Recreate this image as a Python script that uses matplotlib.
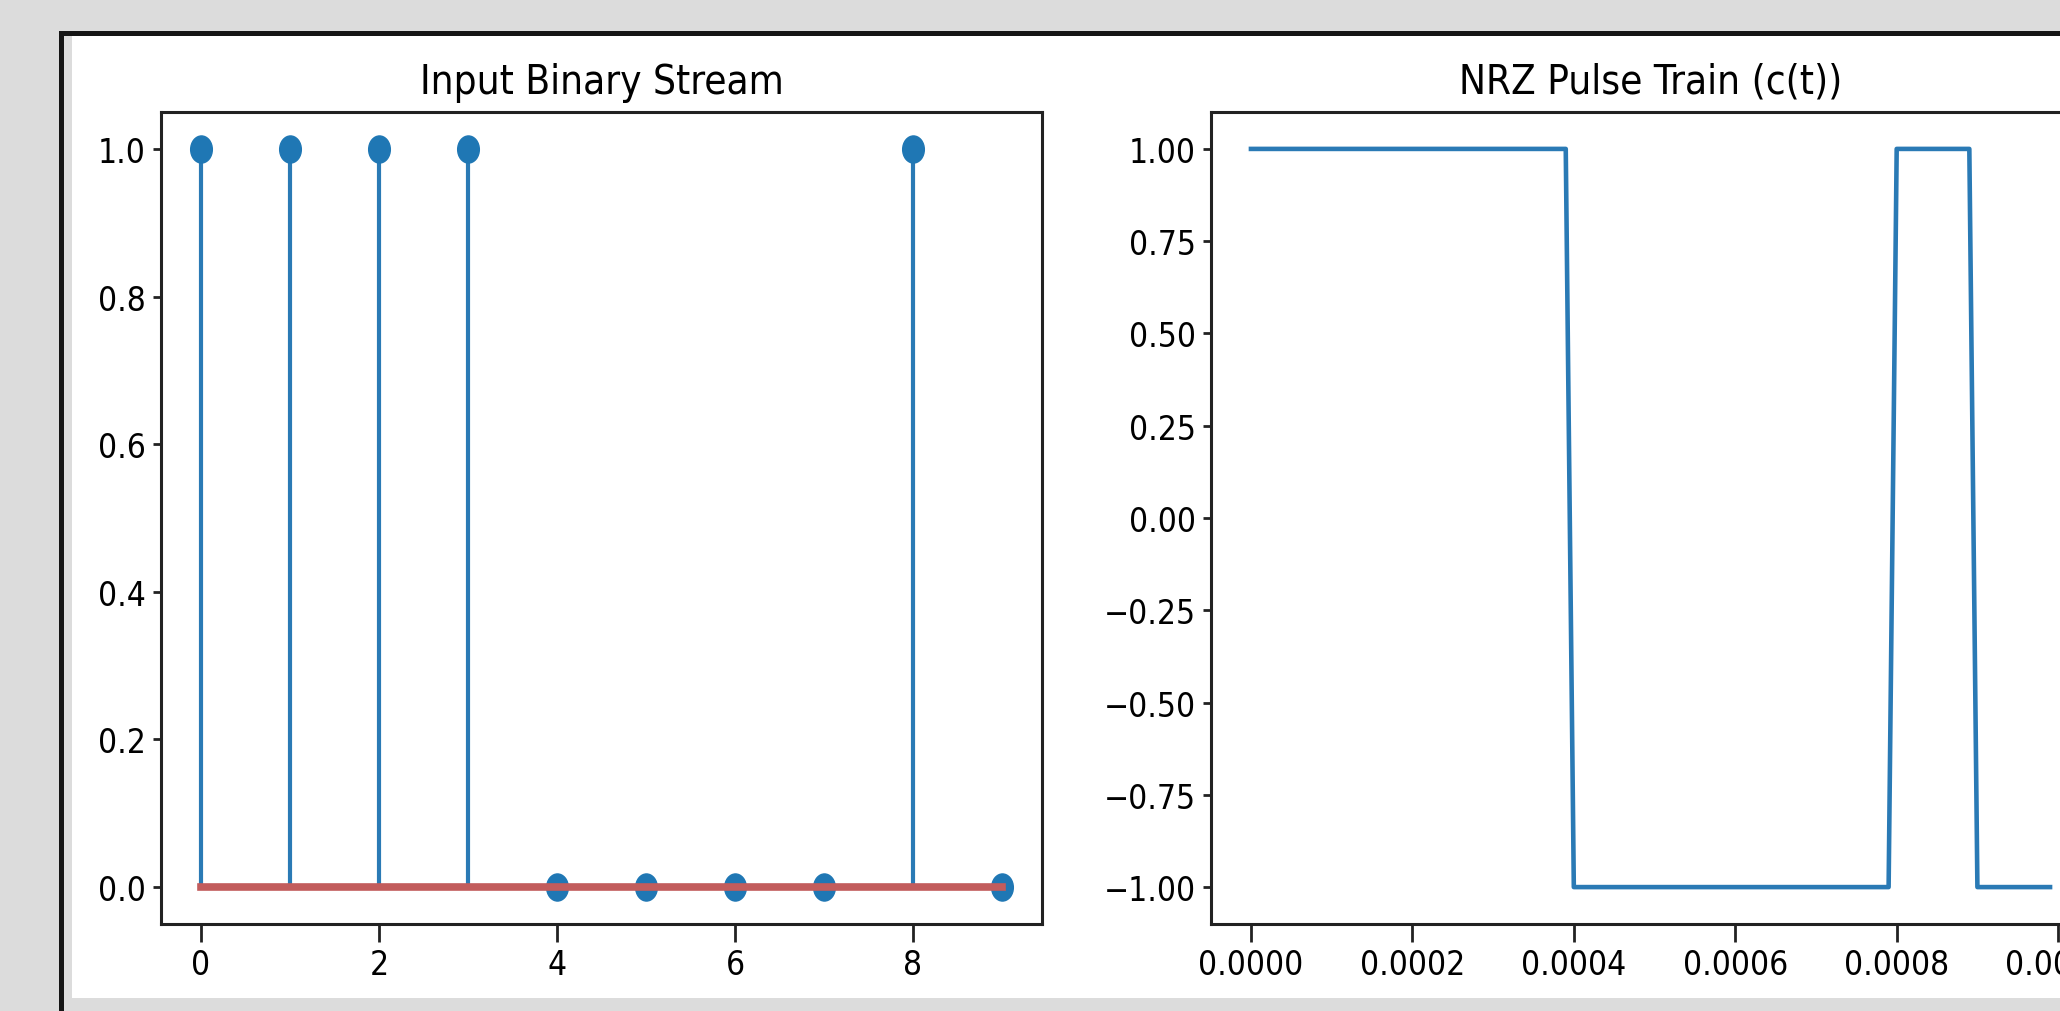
import numpy as np
import matplotlib
matplotlib.use("Agg")
import matplotlib.pyplot as plt
from matplotlib.patches import Rectangle
from matplotlib.path import Path
from matplotlib.transforms import Affine2D

# input bits and the NRZ waveform corners (seconds, level)
bit_index = [0, 1, 2, 3, 4, 5, 6, 7, 8, 9]
bits = [1, 1, 1, 1, 0, 0, 0, 0, 1, 0]
t_nrz = [0.0, 0.00039, 0.00040, 0.00079, 0.00080, 0.00089, 0.00090, 0.00099]
c_nrz = [1, 1, -1, -1, 1, 1, -1, -1]

left_yticks = [0.0, 0.2, 0.4, 0.6, 0.8, 1.0]
right_yticks = [-1.0, -0.75, -0.5, -0.25, 0.0, 0.25, 0.5, 0.75, 1.0]

plt.rcParams['font.family'] = ['DejaVu Sans']
plt.rcParams['font.stretch'] = 'condensed'

W, H = 2060, 1012
fig = plt.figure(figsize=(W / 100, H / 100), dpi=100, facecolor='#dcdcdc')


def px_rect(x0, y0, x1, y1, color):
    # rectangle given in pixel coords measured from the top-left corner
    fig.add_artist(Rectangle((x0 / W, 1 - y1 / H), (x1 - x0) / W, (y1 - y0) / H,
                             transform=fig.transFigure, facecolor=color,
                             edgecolor='none', zorder=-10))


# window frame around the plots
px_rect(72, 37, W, 999, 'white')
px_rect(59, 32, W, 37, '#151515')
px_rect(59, 32, 64, H, '#151515')

ax1 = fig.add_axes([161 / W, 1 - 925 / H, 881 / W, 812 / H])
ax2 = fig.add_axes([1211 / W, 1 - 925 / H, 879 / W, 812 / H])

# slightly tall oval dot for the stem heads
oval = Affine2D().scale(0.8, 1.0).transform_path(Path.unit_circle())

markerline, stemlines, baseline = ax1.stem(bit_index, bits)
markerline.set_marker(oval)
markerline.set_markersize(19.5)
markerline.set_color('#1f77b4')
stemlines.set_linewidth(3.0)
stemlines.set_color('#2a7ab5')
baseline.set_color('#c25c5c')
baseline.set_linewidth(5.5)
ax1.set_title('Input Binary Stream', fontsize=29, pad=14)
ax1.set_yticks(left_yticks)
ax1.yaxis.set_major_formatter('{x:.1f}')

ax2.plot(t_nrz, c_nrz, color='#2a7ab5', linewidth=3.3)
ax2.set_title('NRZ Pulse Train (c(t))', fontsize=29, pad=14)
ax2.set_yticks(right_yticks)

for ax in (ax1, ax2):
    for sp in ax.spines.values():
        sp.set_linewidth(2.2)
        sp.set_color('#222222')
    ax.tick_params(axis='both', labelsize=24, width=2, color='#222222')
    ax.tick_params(axis='x', length=13, pad=4)
    ax.tick_params(axis='y', length=6, pad=5)

fig.savefig('out.png', dpi=100, facecolor=fig.get_facecolor())
